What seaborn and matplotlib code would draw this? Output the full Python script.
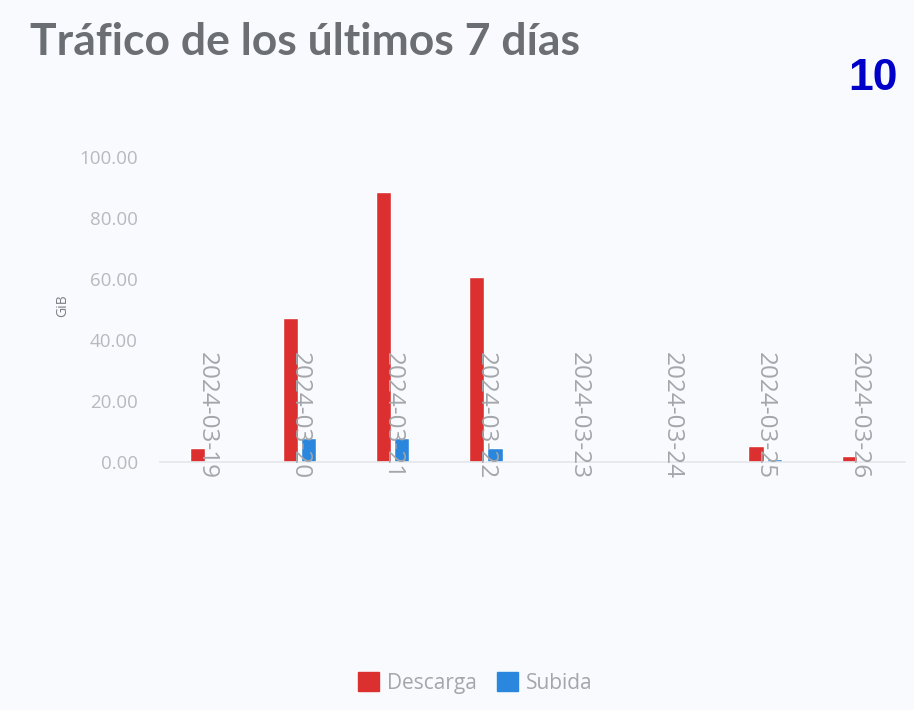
import pandas as pd
import numpy as np
import matplotlib.pyplot as plt
import seaborn as sns
from matplotlib.ticker import FixedLocator, FormatStrFormatter
from matplotlib.patches import Patch

fechas = ['2024-03-19', '2024-03-20', '2024-03-21', '2024-03-22',
          '2024-03-23', '2024-03-24', '2024-03-25', '2024-03-26']
descarga = [4.7, 47.2, 88.5, 60.8, 0.3, 0.5, 5.4, 1.9]
subida = [0.3, 7.9, 8.0, 4.7, 0.1, 0.05, 0.9, 0.4]
series = ['Descarga', 'Subida']
colores = ['#dc2f2f', '#2b87dd']
yticks = [0, 20, 40, 60, 80, 100]

df = pd.DataFrame({
    'fecha': fechas * 2,
    'gib': descarga + subida,
    'tipo': [series[0]] * len(fechas) + [series[1]] * len(fechas),
})

bg = '#f8fafd'
sns.set_style('white')
plt.rcParams['font.family'] = ['Open Sans', 'DejaVu Sans']

fig = plt.figure(figsize=(9.14, 7.10), dpi=100, facecolor=bg)
ax = fig.add_axes([0.175, 0.349, 0.815, 0.430], facecolor=bg)

sns.barplot(data=df, x='fecha', y='gib', hue='tipo', palette=colores,
            width=0.39, gap=0.16, ax=ax, saturation=1, legend=False)
ax.set_axisbelow(False)

ax.set_xlim(-0.5, len(fechas) - 0.5)
ax.set_ylim(0, 100)
ax.yaxis.set_major_locator(FixedLocator(yticks))
ax.yaxis.set_major_formatter(FormatStrFormatter('%.2f'))
ax.tick_params(axis='y', length=0, pad=16, labelsize=13.5, labelcolor='#b6babf')
ax.set_xticks(range(len(fechas)))
ax.set_xticklabels(fechas, rotation=-90)
ax.tick_params(axis='x', length=0, pad=-79, labelsize=17.5, labelcolor='#a3a6aa')
ax.set_xticks(np.arange(-0.5, len(fechas), 1), minor=True)
ax.tick_params(axis='x', which='minor', length=7, width=1, color='#e4e6ea')
ax.set_xlabel('')
ax.set_ylabel('')

for s in ['top', 'right', 'left']:
    ax.spines[s].set_visible(False)
ax.spines['bottom'].set_color('#e4e6ea')
ax.spines['bottom'].set_linewidth(1.2)

fig.text(0.033, 0.9225, 'Tráfico de los últimos 7 días', fontsize=32,
         fontweight='bold', color='#6b6e72', family=['Lato', 'DejaVu Sans'])
fig.text(0.9825, 0.873, '10', fontsize=32, fontweight='bold', color='#0000c8',
         ha='right', family=['Liberation Sans', 'DejaVu Sans'])
fig.text(0.068, 0.57, 'GiB', rotation=90, fontsize=10, color='#7c7f84',
         ha='center', va='center')

handles = [Patch(facecolor=c, edgecolor=c) for c in colores]
fig.legend(handles, series, loc='center', bbox_to_anchor=(0.52, 0.038),
           ncol=2, frameon=False, fontsize=15, labelcolor='#a3a6aa',
           handlelength=1.0, handleheight=1.0, handletextpad=0.35,
           columnspacing=1.0)

fig.savefig('out.png', dpi=100, facecolor=bg)
